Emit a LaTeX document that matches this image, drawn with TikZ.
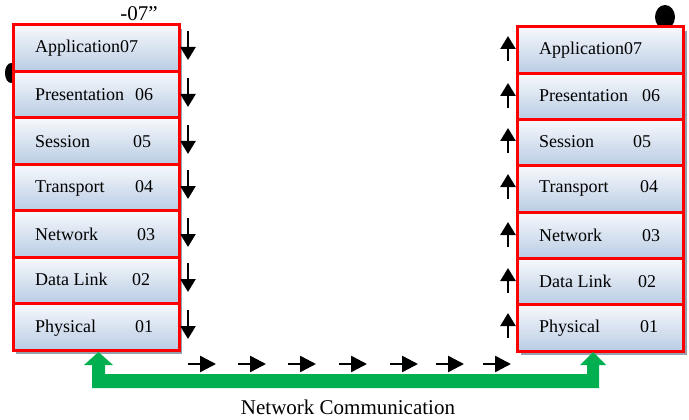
\documentclass[tikz,border=0pt]{standalone}
\usepackage{fontspec}
\setmainfont{Liberation Serif}
\usetikzlibrary{arrows.meta,shadows}
\definecolor{boxred}{RGB}{255,0,0}
\definecolor{gtop}{RGB}{247,249,252}
\definecolor{gbot}{RGB}{185,204,228}
\definecolor{shad}{RGB}{150,160,175}
\definecolor{netgreen}{RGB}{0,176,80}
\tikzset{
  layerbox/.style={draw=boxred, line width=3pt, top color=gtop, bottom color=gbot,
    inner sep=0pt, minimum width=166pt, minimum height=46.4pt,
    drop shadow={shadow xshift=3pt, shadow yshift=-4pt, fill=shad, opacity=1}},
  lbl/.style={font=\fontsize{18}{20}\selectfont, anchor=base west, inner sep=0pt},
  vflow/.style={line width=2.5pt, -{Triangle[width=15pt,length=13pt]}},
  hflow/.style={line width=2.5pt, -{Triangle[width=16pt,length=16pt]}},
}
\begin{document}
\begin{tikzpicture}[x=1pt,y=-1pt]
\useasboundingbox[fill=white] (0,0) rectangle (689,420);
% stray dark marks partly hidden behind the stacks
\fill[black] (11,73) ellipse [x radius=6pt, y radius=10pt];
\fill[black] (665,17) ellipse [x radius=10pt, y radius=12pt];
% left stack
\foreach \i/\cy in {1/48.2,2/94.6,3/141.1,4/187.5,5/233.9,6/280.4,7/326.8}
  \node[layerbox] (L\i) at (96,\cy) {};
% right stack
\foreach \i/\cy in {1/50.2,2/96.4,3/142.7,4/189.0,5/235.3,6/281.6,7/327.9}
  \node[layerbox] (R\i) at (600.5,\cy) {};
% left labels
\node[lbl] (Lt1) at (35,53) {Application07};
\foreach \i/\t/\n/\nx/\b in {2/Presentation/06/135/100,3/Session/05/133/147,4/Transport/04/135/192,5/Network/03/137/240,6/Data Link/02/132/285,7/Physical/01/135/332}{
  \node[lbl] (Lt\i) at (35,\b) {\t};
  \node[lbl] (Ln\i) at (\nx,\b) {\n};
}
% right labels
\node[lbl] (Rt1) at (539,55) {Application07};
\foreach \i/\t/\n/\nx/\b in {2/Presentation/06/642/102,3/Session/05/633/147,4/Transport/04/640/193,5/Network/03/642/241,6/Data Link/02/638/287,7/Physical/01/640/332}{
  \node[lbl] (Rt\i) at (539,\b) {\t};
  \node[lbl] (Rn\i) at (\nx,\b) {\n};
}
% down arrows (sender) and up arrows (receiver)
\foreach \i/\b in {1/53,2/100,3/147,4/192,5/240,6/285,7/332}{
  \coordinate (ds\i) at (188,{\b-22});
  \coordinate (de\i) at (188,{\b+7});
  \draw[vflow] (ds\i) -- (de\i);
}
\foreach \i/\b in {1/55,2/102,3/147,4/193,5/241,6/287,7/332}{
  \coordinate (us\i) at (508,{\b+6});
  \coordinate (ue\i) at (508,{\b-19});
  \draw[vflow] (us\i) -- (ue\i);
}
% horizontal flow arrows
\foreach \k/\s in {1/188,2/238,3/288,4/339,5/390,6/436,7/483}{
  \coordinate (hs\k) at (\s,364);
  \coordinate (he\k) at ({\s+28},364);
  \draw[hflow] (hs\k) -- (he\k);
}
% green U-shaped double arrow
\fill[netgreen] (92,388) -- (599,388) -- (599,365) -- (606,365) -- (593,352)
  -- (580,365) -- (587,365) -- (587,374) -- (105,374) -- (105,365)
  -- (113,365) -- (98.5,352) -- (84,365) -- (92,365) -- cycle;
% texts
\node[font=\fontsize{21}{24}\selectfont, anchor=base, inner sep=0pt] (top) at (139,21) {-07”};
\node[font=\fontsize{21}{24}\selectfont, anchor=base, inner sep=0pt] (nc) at (348,414) {Network Communication};
\end{tikzpicture}
\end{document}
